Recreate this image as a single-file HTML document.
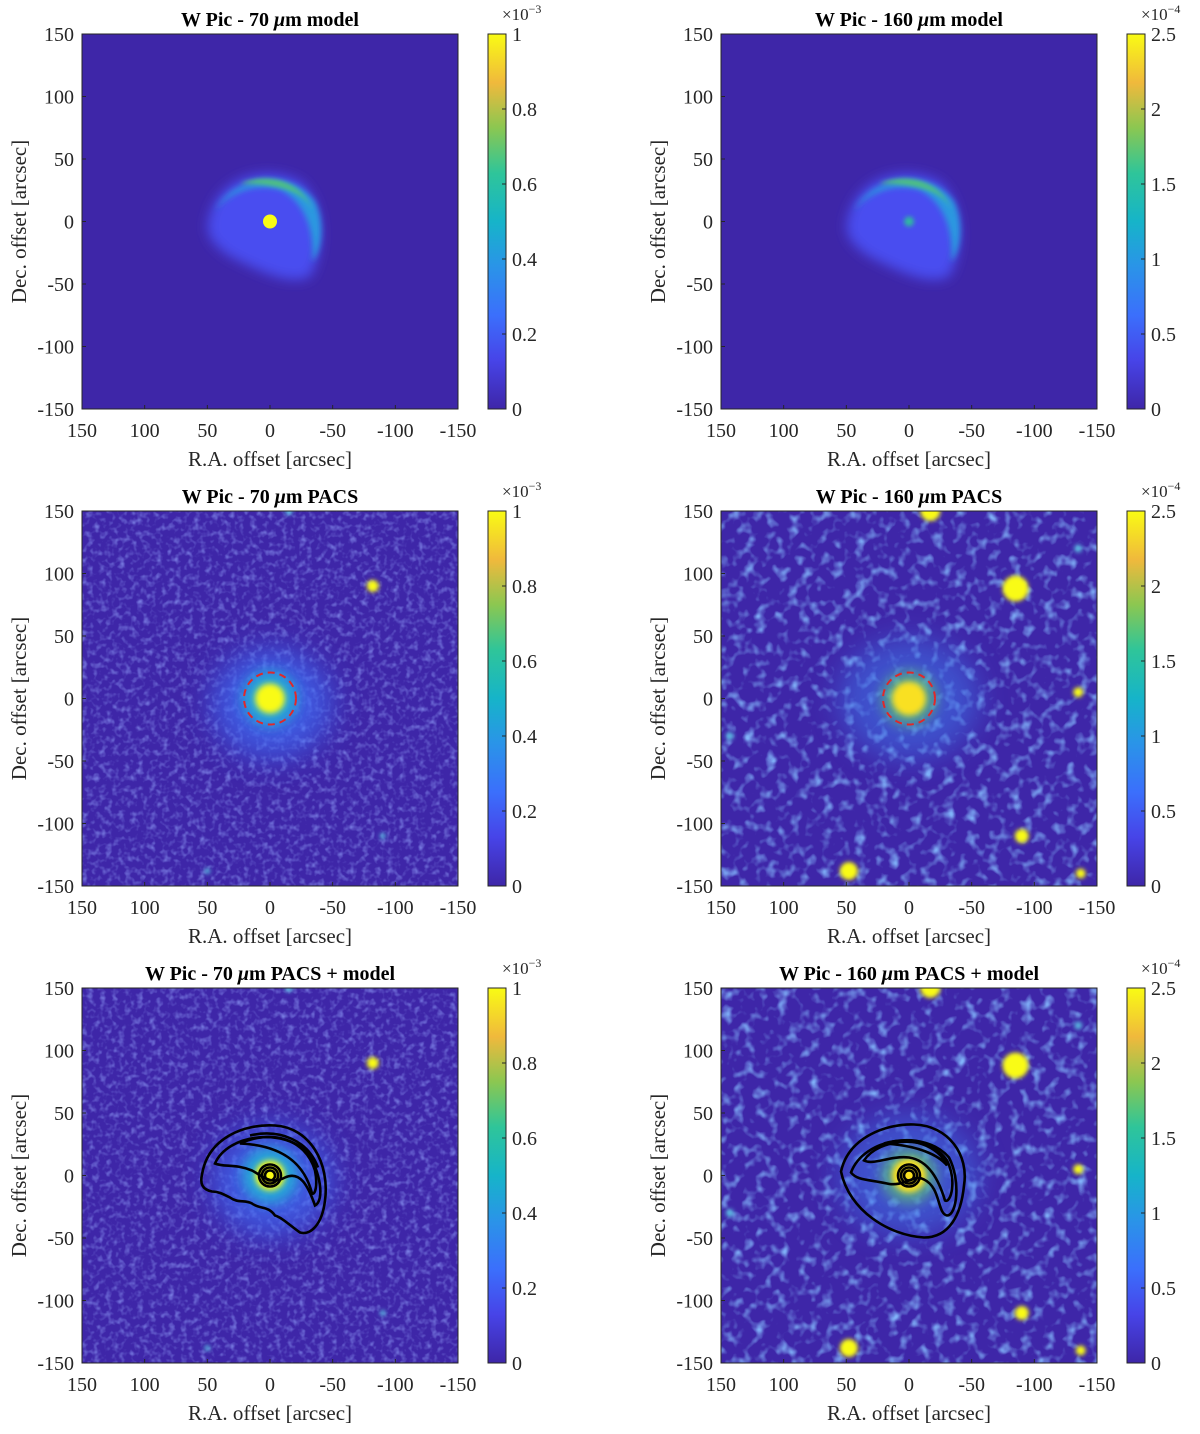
<!DOCTYPE html>
<html><head><meta charset="utf-8"><style>
body{margin:0;background:#fff}
svg{display:block;font-family:"Liberation Serif",serif}
</style></head><body>
<svg id="fig" width="1200" height="1434" viewBox="0 0 1200 1434" xmlns="http://www.w3.org/2000/svg">
<defs>
<linearGradient id="parula" x1="0" y1="1" x2="0" y2="0">
<stop offset="0" stop-color="#3e26a8"/><stop offset="0.13" stop-color="#4744e8"/><stop offset="0.25" stop-color="#3b6ffc"/><stop offset="0.38" stop-color="#2a94e8"/><stop offset="0.5" stop-color="#16b4c9"/><stop offset="0.63" stop-color="#2fc599"/><stop offset="0.75" stop-color="#8bc751"/><stop offset="0.87" stop-color="#f0b93c"/><stop offset="1" stop-color="#f9fb14"/>
</linearGradient>
<filter id="b2" x="-1" y="-1" width="3" height="3"><feGaussianBlur stdDeviation="2"/></filter>
<filter id="b3" x="-1" y="-1" width="3" height="3"><feGaussianBlur stdDeviation="3"/></filter>
<filter id="b6" x="-1" y="-1" width="3" height="3"><feGaussianBlur stdDeviation="6"/></filter>
<filter id="b12" x="-1" y="-1" width="3" height="3"><feGaussianBlur stdDeviation="14"/></filter>
<filter id="n70" x="0" y="0" width="1" height="1"><feTurbulence type="fractalNoise" baseFrequency="0.16" numOctaves="2" seed="4"/><feColorMatrix type="matrix" values="0 0 0 0 0.27  0 0 0 0 0.33  0 0 0 0 0.92  1.6 0 0 0 -0.75"/></filter>
<filter id="n160" x="0" y="0" width="1" height="1"><feTurbulence type="fractalNoise" baseFrequency="0.09" numOctaves="2" seed="9"/><feColorMatrix type="matrix" values="0 0 0 0 0.22  0 0 0 0 0.45  0 0 0 0 0.95  2.6 0 0 0 -1.3"/></filter>
</defs>
</svg>
<script>
const xTicks=[150,100,50,0,-50,-100,-150];
const yTicks=[150,100,50,0,-50,-100,-150];
const cb70=[0,0.2,0.4,0.6,0.8,1];
const cb160=[0,0.5,1,1.5,2,2.5];
const src70=[[-82,90,6],[-15,150,4],[50,-138,3],[-90,-110,3]];
const src160=[[-85,88,13],[-17,150,10],[48,-138,9],[-90,-110,7],[-135,5,5],[-137,-140,5],[-135,120,4],[143,-30,4]];
const NS="http://www.w3.org/2000/svg";
const svg=document.getElementById('fig');
function el(t,a,p){const e=document.createElementNS(NS,t);for(const k in a)e.setAttribute(k,a[k]);(p||svg).appendChild(e);return e;}
const W=376,H=375;
function panel(L,T,kind,band,title,cbExp){
 const g=el('g',{});
 
 
 const sx=a=>L+W/2-a*(W/300), sy=d=>T+H/2-d*(H/300);
 const cid='c'+L+T;
 const cp=el('clipPath',{id:cid},g);el('rect',{x:L,y:T,width:W,height:H},cp);
 const img=el('g',{'clip-path':'url(#'+cid+')'},g);
 
 
 el('rect',{x:L,y:T,width:W,height:H,fill:'#3e26a8'},img);
 const cx=sx(0),cy=sy(0);
 if(kind==='model'){
  el('path',{d:`M${cx-62},${cy+2} C${cx-55},${cy-45} ${cx-5},${cy-58} ${cx+30},${cy-40} C${cx+55},${cy-20} ${cx+55},${cy+30} ${cx+40},${cy+55} C${cx+20},${cy+65} ${cx-10},${cy+50} ${cx-40},${cy+35} C${cx-55},${cy+25} ${cx-64},${cy+15} ${cx-62},${cy+2}Z`,fill:'#4a4ef0',filter:'url(#b6)'},img);
  el('path',{d:`M${cx-55},${cy-10} C${cx-40},${cy-45} ${cx+20},${cy-55} ${cx+45},${cy-20} C${cx+55},${cy} ${cx+52},${cy+30} ${cx+42},${cy+40} C${cx+45},${cy+10} ${cx+35},${cy-20} ${cx+10},${cy-32} C${cx-20},${cy-40} ${cx-45},${cy-25} ${cx-55},${cy-10}Z`,fill:'#2a98e0',filter:'url(#b3)'},img);
  el('path',{d:`M${cx-30},${cy-38} C${cx},${cy-50} ${cx+35},${cy-40} ${cx+45},${cy-5} C${cx+40},${cy-25} ${cx+20},${cy-38} ${cx-30},${cy-38}Z`,fill:'#50c080',filter:'url(#b2)'},img);
  if(band==='70') el('circle',{cx:cx,cy:cy,r:7,fill:'#f9fb14'},img);
  else el('circle',{cx:cx,cy:cy,r:5,fill:'#2fb8a0',filter:'url(#b2)'},img);
 } else {
  el('rect',{x:L,y:T,width:W,height:H,filter:'url(#'+(band==='70'?'n70':'n160')+')'},img);
  if(band==='70'){
   el('ellipse',{cx:cx+2,cy:cy+5,rx:60,ry:55,fill:'#3f6cf5',opacity:0.7,filter:'url(#b12)'},img);
   el('circle',{cx:cx,cy:cy,r:28,fill:'#25a5d8',filter:'url(#b6)'},img);
   el('circle',{cx:cx,cy:cy,r:15,fill:'#f9fb14',filter:'url(#b3)'},img);
  } else {
   el('ellipse',{cx:cx,cy:cy,rx:70,ry:60,fill:'#3f7cf0',opacity:0.5,filter:'url(#b12)'},img);
   el('circle',{cx:cx,cy:cy,r:28,fill:'#5cc07a',opacity:0.7,filter:'url(#b6)'},img);
   el('circle',{cx:cx,cy:cy,r:17,fill:'#f9e020',filter:'url(#b3)'},img);
  }
  const srcs=band==='70'?src70:src160;
  srcs.forEach(s=>{const c=el('circle',{cx:sx(s[0]),cy:sy(s[1]),r:s[2],fill:s[2]>=5?'#f9fb14':'#5ab8e0',filter:'url(#b2)'},img);
   
   });
  if(kind==='pacs'){
   const rc=el('circle',{cx:cx,cy:cy,r:26,fill:'none',stroke:'#e0282a','stroke-width':2,'stroke-dasharray':'7,5'},img);
   
   
  }
  if(kind==='both'){
   const cg=el('g',{fill:'none',stroke:'#000','stroke-width':2.6,transform:`translate(${cx},${cy})`},img);
   
   
   let paths;
   if(band==='70') paths=['M-68,-1 C-62,-38 -25,-52 5,-50 C40,-48 60,-12 55,25 C52,50 40,60 30,57 C20,50 12,42 5,40 C-2,30 -10,34 -18,28 C-25,24 -32,28 -40,22 C-48,18 -52,16 -58,16 C-68,14 -70,8 -68,-1Z',
    'M-55,-12 C-42,-42 15,-48 38,-22 C50,-5 55,25 45,30 C38,10 30,-5 15,2 C0,10 -8,0 -18,-5 C-35,-12 -45,-8 -55,-12Z',
    'M-30,-32 C0,-46 35,-38 45,-5 C48,10 45,20 42,18 C35,-10 15,-30 -30,-32Z',
    'M-20,-40 C10,-47 38,-35 48,-8'];
   else paths=['M-68,-4 C-60,-40 -20,-52 5,-51 C40,-50 60,-20 55,10 C52,40 40,62 15,62 C-20,60 -60,35 -68,-4Z',
    'M-58,-3 C-45,-38 15,-47 40,-18 C52,5 48,40 38,40 C28,38 32,12 15,4 C5,-2 -5,12 -22,8 C-40,4 -52,5 -58,-3Z',
    'M-45,-15 C-30,-38 20,-42 38,-15 C48,5 42,28 36,25 C30,5 20,-15 0,-18 C-20,-20 -35,-10 -45,-15Z',
    'M-25,-32 C0,-40 30,-30 38,-10 C30,-20 10,-30 -25,-32Z'];
   paths.forEach(d=>el('path',{d},cg));
   [5,8,11].forEach(r=>el('circle',{cx:0,cy:0,r},cg));
  }
 }
 el('rect',{x:L,y:T,width:W,height:H,fill:'none',stroke:'#262626','stroke-width':1},g);
 xTicks.forEach(v=>{const x=sx(v);el('line',{x1:x,y1:T+H,x2:x,y2:T+H-4,stroke:'#262626'},g);
  const t=el('text',{x:x,y:T+H+28,'text-anchor':'middle','font-size':20,fill:'#262626'},g);t.textContent=v;});
 yTicks.forEach(v=>{const y=sy(v);el('line',{x1:L,y1:y,x2:L+4,y2:y,stroke:'#262626'},g);
  const t=el('text',{x:L-8,y:y+7,'text-anchor':'end','font-size':20,fill:'#262626'},g);t.textContent=v;});
 const xl=el('text',{x:L+W/2,y:T+H+57,'text-anchor':'middle','font-size':21,fill:'#262626'},g);xl.textContent='R.A. offset [arcsec]';
 
 const yl=el('text',{x:0,y:0,'text-anchor':'middle','font-size':21,fill:'#262626',transform:`translate(${L-56},${T+H/2}) rotate(-90)`},g);yl.textContent='Dec. offset [arcsec]';
 
 const tt=el('text',{x:L+W/2,y:T-8,'text-anchor':'middle','font-size':20,'font-weight':'bold',fill:'#000'},g);
 tt.innerHTML=title;
 
 const cbx=L+406,cbw=18;
 const cb=el('g',{},g);
 
 el('rect',{x:cbx,y:T,width:cbw,height:H,fill:'url(#parula)',stroke:'#262626','stroke-width':1},cb);
 const ticks=band==='70'?cb70:cb160, mx=ticks[ticks.length-1];
 ticks.forEach(v=>{const y=T+H-v/mx*H;el('line',{x1:cbx+cbw,y1:y,x2:cbx+cbw-4,y2:y,stroke:'#262626'},cb);
  const t=el('text',{x:cbx+cbw+6,y:y+7,'font-size':20,fill:'#262626'},cb);t.textContent=v;});
 const ex=el('text',{x:cbx+14,y:T-14,'font-size':17,fill:'#262626'},cb);
 ex.innerHTML='×10<tspan dy="-7" font-size="12">'+cbExp+'</tspan>';
}
const rows=[34,511,988], cols=[82,721];
const kinds=['model','pacs','both'];
const names=['model','PACS','PACS + model'];
rows.forEach((T,i)=>{
 panel(cols[0],T,kinds[i],'70','W Pic - 70 <tspan font-style="italic">μ</tspan>m '+names[i],'−3');
 panel(cols[1],T,kinds[i],'160','W Pic - 160 <tspan font-style="italic">μ</tspan>m '+names[i],'−4');
});
</script>
</body></html>
